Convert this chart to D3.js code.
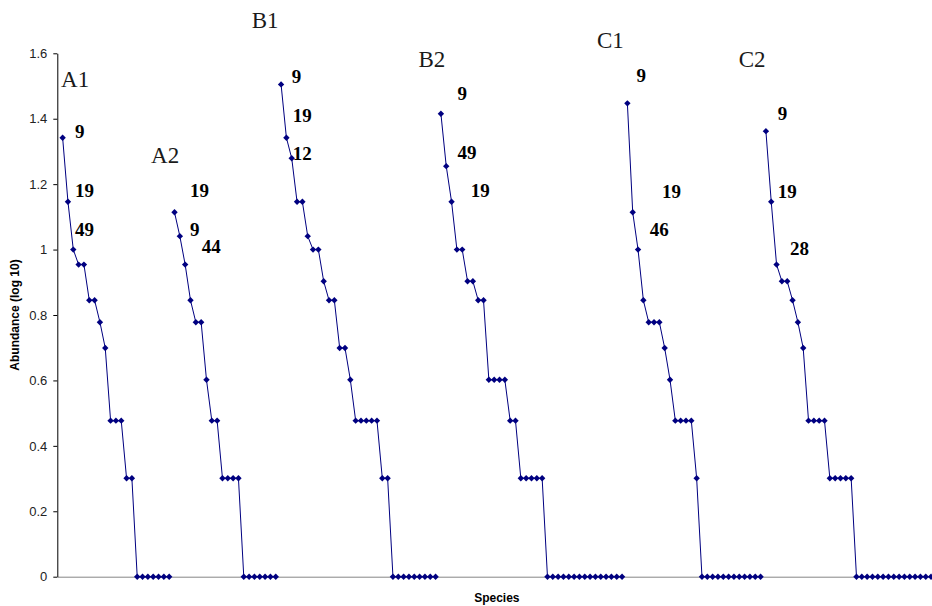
<!DOCTYPE html>
<html>
<head>
<meta charset="utf-8">
<script src="https://cdn.jsdelivr.net/npm/d3@7"></script>
<style>
  body { margin: 0; background: #fff; }
  svg { display: block; }
  .tick text { font-family: "Liberation Sans", Arial, sans-serif; font-size: 13px; fill: #222; }
</style>
</head>
<body>
<div id="chart"></div>
<script>
var svgWidth = 932;
var svgHeight = 606;

// abundance (log 10) of each ranked species, one array per site
var siteNames = ["A1", "A2", "B1", "B2", "C1", "C2"];
var a1Values = [1.342, 1.146, 1.0, 0.954, 0.954, 0.845, 0.845, 0.778, 0.699, 0.477, 0.477, 0.477, 0.301, 0.301,
  0, 0, 0, 0, 0, 0, 0];
var a2Values = [1.114, 1.041, 0.954, 0.845, 0.778, 0.778, 0.602, 0.477, 0.477, 0.301, 0.301, 0.301, 0.301,
  0, 0, 0, 0, 0, 0, 0];
var b1Values = [1.505, 1.342, 1.279, 1.146, 1.146, 1.041, 1.0, 1.0, 0.903, 0.845, 0.845, 0.699, 0.699, 0.602,
  0.477, 0.477, 0.477, 0.477, 0.477, 0.301, 0.301,
  0, 0, 0, 0, 0, 0, 0, 0, 0];
var b2Values = [1.415, 1.255, 1.146, 1.0, 1.0, 0.903, 0.903, 0.845, 0.845, 0.602, 0.602, 0.602, 0.602,
  0.477, 0.477, 0.301, 0.301, 0.301, 0.301, 0.301,
  0, 0, 0, 0, 0, 0, 0, 0, 0, 0, 0, 0, 0, 0, 0];
var c1Values = [1.447, 1.114, 1.0, 0.845, 0.778, 0.778, 0.778, 0.699, 0.602, 0.477, 0.477, 0.477, 0.477, 0.301,
  0, 0, 0, 0, 0, 0, 0, 0, 0, 0, 0, 0];
var c2Values = [1.362, 1.146, 0.954, 0.903, 0.903, 0.845, 0.778, 0.699, 0.477, 0.477, 0.477, 0.477,
  0.301, 0.301, 0.301, 0.301, 0.301,
  0, 0, 0, 0, 0, 0, 0, 0, 0, 0, 0, 0, 0, 0, 0];
var siteValues = [a1Values, a2Values, b1Values, b2Values, c1Values, c2Values];

var yTicks = [0, 0.2, 0.4, 0.6, 0.8, 1, 1.2, 1.4, 1.6];

// site titles, placed in data space (species index, abundance)
var titleIdx = [-0.3, 16.6, 35.5, 66.8, 100.3, 126.9];
var titleVal = [1.497, 1.264, 1.677, 1.559, 1.616, 1.559];

// species numbers written beside the top points
var noteText = ["9", "19", "49", "19", "9", "44", "9", "19", "12", "9", "49", "19", "9", "19", "46", "9", "19", "28"];
var noteIdx = [2.3, 2.3, 2.3, 23.9, 23.9, 26.1, 43.0, 43.2, 43.2, 74.1, 74.1, 76.6, 107.7, 112.5, 110.2, 134.2, 134.2, 136.5];
var noteVal = [1.341, 1.160, 1.041, 1.160, 1.041, 0.989, 1.510, 1.391, 1.274, 1.457, 1.277, 1.160, 1.513, 1.159, 1.042, 1.396, 1.159, 0.984];

var margin = { top: 53.3, left: 57.3 };
var plotRight = 936.4;
var plotBottom = 576.7;

var svg = d3.select("#chart")
  .append("svg")
  .attr("width", svgWidth)
  .attr("height", svgHeight);

// species are placed one after the other, each site starting where the last ended
var sites = [];
var offset = 0;
siteValues.forEach(function(vals, k) {
  sites.push({
    name: siteNames[k],
    points: vals.map(function(v, i) { return { idx: offset + i, value: v }; })
  });
  offset += vals.length;
});

var xScale = d3.scaleLinear()
  .domain([-1, 164])
  .range([margin.left, plotRight]);

var yScale = d3.scaleLinear()
  .domain([0, 1.6])
  .range([plotBottom, margin.top]);

// x axis: plain grey line, no ticks
svg.append("g")
  .attr("transform", `translate(0, ${plotBottom})`)
  .call(d3.axisBottom(xScale).tickValues([]).tickSizeOuter(0))
  .select(".domain")
  .attr("stroke", "#868686");

// y axis
var yAxis = svg.append("g")
  .attr("transform", `translate(${margin.left}, 0)`)
  .call(d3.axisLeft(yScale)
    .tickValues(yTicks)
    .tickFormat(d3.format("~g"))
    .tickSize(4)
    .tickSizeOuter(0)
    .tickPadding(6));
yAxis.select(".domain").attr("stroke", "#000");
yAxis.selectAll(".tick line").attr("stroke", "#000");

// axis titles
svg.append("text")
  .attr("transform", "rotate(-90)")
  .attr("x", -(margin.top + plotBottom) / 2)
  .attr("y", 19)
  .attr("text-anchor", "middle")
  .style("font-family", "Liberation Sans, Arial, sans-serif")
  .style("font-size", "12px")
  .style("font-weight", "bold")
  .text("Abundance (log 10)");

svg.append("text")
  .attr("x", (margin.left + plotRight) / 2)
  .attr("y", 602)
  .attr("text-anchor", "middle")
  .style("font-family", "Liberation Sans, Arial, sans-serif")
  .style("font-size", "12px")
  .style("font-weight", "bold")
  .text("Species");

// one line per site, so sites are not joined
var line = d3.line()
  .x(d => xScale(d.idx))
  .y(d => yScale(d.value));

svg.append("g")
  .selectAll("path")
  .data(sites)
  .enter()
  .append("path")
  .attr("d", d => line(d.points))
  .attr("fill", "none")
  .attr("stroke", "#000080")
  .attr("stroke-width", 1);

// diamond markers
var allPoints = d3.merge(sites.map(s => s.points));
svg.append("g")
  .selectAll("path")
  .data(allPoints)
  .enter()
  .append("path")
  .attr("transform", d => `translate(${xScale(d.idx)}, ${yScale(d.value)})`)
  .attr("d", "M0,-3.2L3.2,0L0,3.2L-3.2,0Z")
  .attr("fill", "#000080");

// site titles
svg.append("g")
  .selectAll("text")
  .data(siteNames)
  .enter()
  .append("text")
  .attr("x", (d, i) => xScale(titleIdx[i]))
  .attr("y", (d, i) => yScale(titleVal[i]))
  .style("font-family", "Liberation Serif, Times New Roman, serif")
  .style("font-size", "23px")
  .style("fill", "#1a1a1a")
  .text(d => d);

// species numbers
svg.append("g")
  .selectAll("text")
  .data(noteText)
  .enter()
  .append("text")
  .attr("x", (d, i) => xScale(noteIdx[i]))
  .attr("y", (d, i) => yScale(noteVal[i]))
  .style("font-family", "Liberation Serif, Times New Roman, serif")
  .style("font-size", "19px")
  .style("font-weight", "bold")
  .style("fill", "#000")
  .text(d => d);
</script>
</body>
</html>
